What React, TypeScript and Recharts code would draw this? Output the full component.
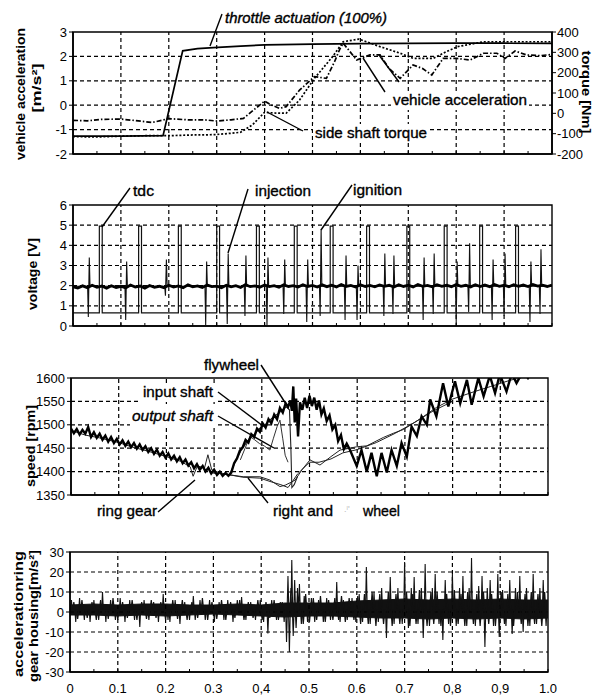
import React from 'react';
import { LineChart, ComposedChart, Line, Area, XAxis, YAxis, ReferenceLine, ReferenceArea } from 'recharts';

const TICK_FONT = "'Liberation Sans Narrow', 'Arial Narrow', 'Liberation Sans', Arial, sans-serif";
const LABEL_FONT = "'Liberation Sans', Arial, sans-serif";

// ---------- shared x axis (time, normalised) ----------
const xMinor = [0, 0.05, 0.1, 0.15, 0.2, 0.25, 0.3, 0.35, 0.4, 0.45, 0.5, 0.55, 0.6, 0.65, 0.7, 0.75, 0.8, 0.85, 0.9, 0.95, 1];
const xMajor = [0, 0.1, 0.2, 0.3, 0.4, 0.5, 0.6, 0.7, 0.8, 0.9, 1];
const xLabels = ['0', '0.1', '0.2', '0.3', '0,4', '0.5', '0.6', '0.7', '0,8', '0,9', '1.0'];
const gridX = [0.1, 0.2, 0.3, 0.4, 0.5, 0.6, 0.7, 0.8, 0.9];

// ---------- panel 1: vehicle acceleration / torque ----------
const accelTicks = [-2, -1, 0, 1, 2, 3];
const accelGrid = [-1, 0, 1, 2];
const torqueTicks = [-200, -100, 0, 100, 200, 300, 400];
const throttleX = [0, 0.1, 0.188, 0.229, 0.26, 0.293, 0.35, 0.4, 0.5, 0.6, 0.7, 0.8, 0.9, 1.0];
const throttleY = [-1.27, -1.27, -1.25, 2.23, 2.32, 2.36, 2.42, 2.47, 2.5, 2.52, 2.53, 2.54, 2.54, 2.53];
const vehAccX = [0, 0.03, 0.06, 0.1, 0.13, 0.165, 0.2, 0.24, 0.275, 0.3, 0.33, 0.356, 0.38, 0.4, 0.415, 0.431, 0.445, 0.473, 0.504, 0.529, 0.546, 0.557, 0.564, 0.578, 0.592, 0.62, 0.641, 0.66, 0.683, 0.71, 0.73, 0.749, 0.773, 0.801, 0.829, 0.857, 0.885, 0.902, 0.923, 0.947, 0.975, 1.0];
const vehAccY = [-0.62, -0.64, -0.58, -0.57, -0.63, -0.71, -0.55, -0.6, -0.6, -0.65, -0.6, -0.54, -0.15, 0.17, 0.0, -0.13, -0.06, 0.62, 1.17, 1.1, 1.78, 2.3, 2.54, 2.2, 1.85, 2.06, 2.06, 1.5, 1.1, 1.65, 1.5, 1.24, 1.92, 1.92, 1.85, 2.13, 2.13, 1.92, 2.22, 2.06, 2.03, 2.08];
const torqueX = [0, 0.05, 0.1, 0.15, 0.2, 0.25, 0.275, 0.3, 0.33, 0.35, 0.375, 0.4, 0.42, 0.445, 0.473, 0.504, 0.542, 0.564, 0.597, 0.641, 0.683, 0.71, 0.752, 0.78, 0.803, 0.857, 0.926, 1.0];
const torqueY = [-1.29, -1.3, -1.27, -1.25, -1.25, -1.22, -1.22, -1.2, -1.15, -1.11, -0.8, -0.29, -0.32, -0.33, 0.21, 1.1, 1.99, 2.6, 2.71, 2.4, 2.13, 1.92, 1.92, 2.2, 2.4, 2.6, 2.6, 2.6];

// ---------- panel 2: voltage ----------
const voltTicks = [0, 1, 2, 3, 4, 5, 6];
const voltGrid = [1, 2, 3, 4, 5];
const tdcCenters = [0.058, 0.14, 0.223, 0.303, 0.386, 0.465, 0.54, 0.616, 0.7, 0.778, 0.852, 0.927];
const tdcLow = 0.65;
const tdcHigh = 4.95;
const injX = [0, 0.01, 0.02, 0.03, 0.04, 0.05, 0.06, 0.07, 0.08, 0.09, 0.1, 0.11, 0.12, 0.13, 0.14, 0.15, 0.16, 0.17, 0.18, 0.19, 0.2, 0.21, 0.22, 0.23, 0.24, 0.25, 0.26, 0.27, 0.28, 0.29, 0.3, 0.31, 0.32, 0.33, 0.34, 0.35, 0.36, 0.37, 0.38, 0.39, 0.4, 0.41, 0.42, 0.43, 0.44, 0.45, 0.46, 0.47, 0.48, 0.49, 0.5, 0.51, 0.52, 0.53, 0.54, 0.55, 0.56, 0.57, 0.58, 0.59, 0.6, 0.61, 0.62, 0.63, 0.64, 0.65, 0.66, 0.67, 0.68, 0.69, 0.7, 0.71, 0.72, 0.73, 0.74, 0.75, 0.76, 0.77, 0.78, 0.79, 0.8, 0.81, 0.82, 0.83, 0.84, 0.85, 0.86, 0.87, 0.88, 0.89, 0.9, 0.91, 0.92, 0.93, 0.94, 0.95, 0.96, 0.97, 0.98, 0.99, 1.0];
const injY = [1.95, 1.88, 1.99, 1.9, 2.02, 1.92, 1.98, 1.87, 2.0, 1.91, 1.97, 1.89, 2.03, 1.93, 1.98, 1.88, 2.01, 1.92, 1.97, 1.9, 2.02, 1.93, 1.99, 1.9, 2.04, 1.94, 1.99, 1.91, 2.03, 1.95, 1.98, 1.9, 2.02, 1.94, 2.0, 1.91, 2.05, 1.95, 1.99, 1.92, 2.03, 1.95, 2.0, 1.92, 2.04, 1.96, 2.0, 1.93, 2.05, 1.96, 2.01, 1.93, 2.04, 1.95, 2.02, 1.94, 2.06, 1.96, 2.01, 1.93, 2.05, 1.96, 2.01, 1.94, 2.04, 1.97, 2.02, 1.93, 2.05, 1.96, 2.02, 1.94, 2.06, 1.97, 2.01, 1.94, 2.05, 1.97, 2.02, 1.95, 2.06, 1.97, 2.02, 1.94, 2.05, 1.96, 2.03, 1.95, 2.06, 1.97, 2.02, 1.95, 2.05, 1.97, 2.03, 1.96, 2.06, 1.98, 2.02, 1.96, 2.03];
const injBase = 1.97;
const spikeX = [0.032, 0.11, 0.193, 0.277, 0.322, 0.359, 0.405, 0.44, 0.488, 0.516, 0.568, 0.593, 0.649, 0.668, 0.731, 0.752, 0.8, 0.826, 0.875, 0.9, 0.954, 0.975];
const spikeLow = [0.45, 0.3, 1.5, 0.05, 0.1, 0.5, 0.05, 0.6, 0.2, 0.5, 0.3, 0.3, 0.5, 0.6, 0.3, 0.6, 0.2, 0.7, 0.3, 0.5, 0.2, 0.6];
const spikeHigh = [3.4, 3.2, 3.3, 3.2, 3.6, 3.5, 3.4, 3.3, 3.3, 4.8, 3.5, 3.0, 3.6, 3.5, 3.4, 3.6, 3.2, 4.1, 3.3, 3.6, 3.2, 3.8];

// ---------- panel 3: speed ----------
const speedTicks = [1350, 1400, 1450, 1500, 1550, 1600];
const speedGrid = [1400, 1450, 1500, 1550];
const flywheelPts: [number, number][] = [
  [0, 1492], [0.006, 1482], [0.012, 1491], [0.018, 1479], [0.024, 1489], [0.03, 1481], [0.036, 1495], [0.042, 1474], [0.048, 1484], [0.054, 1472],
  [0.06, 1481], [0.066, 1468], [0.072, 1477], [0.078, 1464], [0.084, 1474], [0.09, 1461], [0.096, 1470], [0.102, 1458], [0.108, 1467], [0.114, 1455],
  [0.12, 1464], [0.126, 1452], [0.132, 1461], [0.138, 1449], [0.144, 1458], [0.15, 1446], [0.156, 1454], [0.162, 1442], [0.168, 1450], [0.174, 1438],
  [0.18, 1447], [0.186, 1434], [0.192, 1442], [0.198, 1430], [0.204, 1439], [0.21, 1426], [0.216, 1434], [0.222, 1422], [0.228, 1431], [0.234, 1418],
  [0.24, 1426], [0.246, 1413], [0.252, 1420], [0.258, 1407], [0.264, 1416], [0.27, 1404], [0.276, 1412], [0.282, 1400], [0.288, 1408], [0.294, 1396],
  [0.3, 1404], [0.306, 1393], [0.312, 1400], [0.318, 1391], [0.324, 1397], [0.33, 1391],
  [0.336, 1398], [0.342, 1418], [0.348, 1428], [0.354, 1445], [0.36, 1452], [0.366, 1468], [0.372, 1462], [0.378, 1480], [0.384, 1474], [0.39, 1492],
  [0.396, 1485], [0.402, 1503], [0.408, 1494], [0.414, 1512], [0.42, 1503], [0.426, 1522], [0.432, 1512], [0.438, 1536], [0.444, 1526], [0.45, 1546],
  [0.455, 1538], [0.46, 1552], [0.463, 1530], [0.466, 1582], [0.469, 1505], [0.472, 1556], [0.476, 1475], [0.48, 1548], [0.485, 1532], [0.49, 1558],
  [0.495, 1536], [0.5, 1562], [0.505, 1540], [0.51, 1558], [0.515, 1532], [0.52, 1552], [0.525, 1522], [0.53, 1535], [0.536, 1508], [0.542, 1520],
  [0.548, 1490], [0.554, 1500], [0.56, 1465], [0.566, 1478], [0.572, 1448], [0.578, 1460], [0.585, 1446],
  [0.599, 1412], [0.609, 1446], [0.62, 1400], [0.63, 1440], [0.641, 1390], [0.651, 1440], [0.662, 1398], [0.672, 1446], [0.683, 1412], [0.693, 1461],
  [0.704, 1432], [0.714, 1496], [0.725, 1476], [0.735, 1518], [0.746, 1500], [0.753, 1554], [0.766, 1518], [0.78, 1589], [0.791, 1539], [0.805, 1593],
  [0.816, 1546], [0.83, 1596], [0.84, 1543], [0.854, 1600], [0.865, 1561], [0.878, 1605], [0.889, 1568], [0.899, 1608], [0.913, 1571], [0.924, 1610],
  [0.934, 1589], [0.948, 1615], [0.958, 1600], [0.97, 1620], [0.985, 1610], [1.0, 1625],
];
const ringGearPts: [number, number][] = [
  [0, 1488], [0.03, 1478], [0.06, 1472], [0.1, 1462], [0.13, 1452], [0.16, 1444], [0.2, 1432], [0.23, 1422], [0.25, 1410], [0.256, 1390],
  [0.265, 1412], [0.28, 1408], [0.287, 1436], [0.295, 1404], [0.31, 1398], [0.333, 1393], [0.361, 1389], [0.396, 1389], [0.417, 1382], [0.438, 1368],
  [0.449, 1371], [0.463, 1378], [0.47, 1382], [0.485, 1405], [0.501, 1425], [0.522, 1414], [0.545, 1432], [0.564, 1446], [0.599, 1453], [0.62, 1455],
  [0.655, 1473], [0.676, 1482], [0.697, 1490], [0.731, 1512], [0.766, 1537], [0.8, 1555], [0.843, 1570], [0.88, 1582], [0.92, 1595], [0.96, 1605], [1.0, 1612],
];
const wheelPts: [number, number][] = [
  [0.333, 1393], [0.36, 1388], [0.396, 1386], [0.42, 1378], [0.44, 1372], [0.455, 1366], [0.465, 1380], [0.475, 1395], [0.5, 1420], [0.52, 1420],
  [0.545, 1427], [0.57, 1440], [0.6, 1447], [0.64, 1462], [0.68, 1482], [0.72, 1505], [0.76, 1530], [0.8, 1550],
];
const inputShaftPts: [number, number][] = [
  [0.333, 1395], [0.345, 1422], [0.357, 1446], [0.37, 1465], [0.383, 1478], [0.395, 1492], [0.405, 1498], [0.415, 1508], [0.425, 1518], [0.435, 1524],
  [0.445, 1534], [0.452, 1538], [0.458, 1532], [0.461, 1450], [0.463, 1366], [0.468, 1372], [0.475, 1390],
];
const outputShaftPts: [number, number][] = [
  [0.355, 1425], [0.365, 1450], [0.375, 1475], [0.385, 1468], [0.395, 1460], [0.405, 1455], [0.417, 1446], [0.424, 1470], [0.432, 1496], [0.438, 1510],
  [0.444, 1470], [0.449, 1435], [0.455, 1420],
];

// ---------- panel 4: ring gear housing acceleration ----------
const vibTicks = [-30, -20, -10, 0, 10, 20, 30];
const vibGrid = [-20, -10, 0, 10, 20];
const bandX = [0, 0.05, 0.1, 0.15, 0.2, 0.25, 0.3, 0.35, 0.4, 0.45, 0.5, 0.55, 0.6, 0.65, 0.7, 0.75, 0.8, 0.85, 0.9, 0.95, 1.0];
const bandHi = [3.5, 4, 3.5, 4, 4, 3.5, 3.5, 4, 3.5, 4.5, 4.5, 4.5, 5.5, 6, 6.5, 6, 6.5, 6, 6.5, 6, 6];
const bandLo = [-1.5, -1.5, -2, -1.5, -2, -1.5, -1, -1.5, -2, -2.5, -2, -2, -2.5, -3, -3, -3.5, -3, -3.5, -3, -3.5, -3];
const vibBase = 1;
const vibSpikes: [number, number][] = [
  [0.003, 6], [0.012, -5], [0.02, 7], [0.03, -4], [0.042, -5], [0.05, 6], [0.06, -4], [0.068, 10], [0.075, -5], [0.085, 6],
  [0.095, -4], [0.105, 7], [0.115, -5], [0.125, 6], [0.135, -4], [0.146, -7.5], [0.155, 6], [0.165, -4], [0.175, 5], [0.185, -5],
  [0.195, 9], [0.205, -4], [0.209, -5], [0.22, 6], [0.23, -6], [0.24, 5], [0.25, -4], [0.258, 8], [0.262, -4], [0.272, 6],
  [0.283, -4], [0.292, 6], [0.302, -5], [0.312, 5], [0.322, -4], [0.33, 6], [0.341, -5], [0.35, 6], [0.359, 7.5], [0.368, -4],
  [0.378, 5], [0.388, -4], [0.398, 6], [0.405, -5], [0.414, -10.8], [0.422, 6], [0.432, -4], [0.44, 5], [0.448, -5], [0.453, -15],
  [0.456, 18], [0.459, -20], [0.462, 12], [0.464, 26], [0.467, -12], [0.47, 16], [0.473, -8], [0.476, 12], [0.48, 14], [0.484, -6],
  [0.49, 8], [0.497, -5], [0.505, 7], [0.512, -5], [0.52, 6], [0.53, -5], [0.537, 7], [0.545, -4], [0.558, 15], [0.565, -5],
  [0.572, 6], [0.58, -4], [0.59, 7], [0.598, -5], [0.605, 9], [0.612, -5], [0.62, 22.5], [0.628, -6], [0.636, 10], [0.645, -5],
  [0.652, 12], [0.662, -13], [0.67, 17.5], [0.678, -6], [0.686, 12], [0.695, -6], [0.7, 25], [0.708, -8], [0.714, 12], [0.72, 17.5],
  [0.728, -6], [0.735, 12], [0.739, -13], [0.743, 24], [0.752, -7], [0.758, 12], [0.764, 19], [0.772, -6], [0.78, -14], [0.785, 16],
  [0.792, -6], [0.8, 19], [0.808, -7], [0.815, 12], [0.822, 18], [0.83, -7], [0.835, 12], [0.84, 27], [0.848, -7], [0.855, 13],
  [0.862, 18], [0.868, -17.5], [0.873, 12], [0.879, 16], [0.886, -7], [0.895, 19], [0.898, -12.5], [0.905, 11], [0.912, -7], [0.92, 16],
  [0.925, -11], [0.932, 12], [0.941, 18], [0.948, -10], [0.955, 12], [0.962, -7], [0.969, 19], [0.976, -6], [0.983, 12], [0.99, 16], [0.996, -7],
];
const vibSmall: [number, number][] = [
  [0.008, 5], [0.016, -3.5], [0.025, 6], [0.036, -3], [0.046, 5], [0.055, -4], [0.064, 6], [0.08, -3.5], [0.09, 7], [0.1, -4],
  [0.11, 5], [0.12, -3], [0.13, 6], [0.14, -4], [0.15, 5], [0.16, -3.5], [0.17, 6], [0.18, -3], [0.19, 5], [0.2, -4],
  [0.215, 6], [0.225, -3.5], [0.235, 6], [0.245, -4], [0.255, 5], [0.267, -3], [0.277, 7], [0.288, -4], [0.297, 5], [0.307, -3.5],
  [0.317, 6], [0.326, -4], [0.336, 5], [0.345, -3], [0.355, 6], [0.364, -4], [0.373, 5], [0.383, -3], [0.393, 6], [0.402, -4],
  [0.41, 5], [0.418, -3], [0.427, 6], [0.436, -4], [0.444, 5], [0.488, -6], [0.493, 9], [0.501, -5], [0.509, 7], [0.516, -4],
  [0.524, 8], [0.534, -5], [0.541, 6], [0.55, -4], [0.554, 7], [0.562, -4], [0.568, 8], [0.576, -5], [0.584, 7], [0.594, -4],
  [0.602, 8], [0.608, -6], [0.616, 9], [0.624, -6], [0.632, 10], [0.64, -7], [0.648, 9], [0.656, -6], [0.666, 10], [0.674, -7],
  [0.682, 9], [0.69, -6], [0.704, 10], [0.711, -7], [0.717, 9], [0.724, -6], [0.731, 11], [0.747, -7], [0.755, 10], [0.761, -6],
  [0.768, 10], [0.776, -7], [0.788, 9], [0.796, -7], [0.804, 11], [0.812, -6], [0.818, 9], [0.826, -7], [0.832, 10], [0.844, -6],
  [0.851, 9], [0.858, -7], [0.865, 10], [0.876, -6], [0.882, 9], [0.89, -7], [0.902, 10], [0.909, -6], [0.916, 9], [0.928, -7],
  [0.936, 10], [0.944, -6], [0.952, 9], [0.958, -7], [0.965, 10], [0.972, -6], [0.979, 9], [0.987, -7], [0.993, 10],
];

// ---------- data builders ----------
const zip = (xs: number[], ys: number[]) => xs.map((x, i) => ({ x, y: ys[i] }));
const fromPairs = (p: [number, number][]) => p.map(([x, y]) => ({ x, y }));

const throttleData = zip(throttleX, throttleY);
const vehAccData = zip(vehAccX, vehAccY);
const torqueData = zip(torqueX, torqueY);

const tdcHalf = 0.003;
const tdcData = (() => {
  const pts: { x: number; y: number }[] = [{ x: 0, y: tdcLow }];
  tdcCenters.forEach((c) => {
    pts.push({ x: c - tdcHalf, y: tdcLow }, { x: c - tdcHalf, y: tdcHigh }, { x: c + tdcHalf, y: tdcHigh }, { x: c + tdcHalf, y: tdcLow });
  });
  pts.push({ x: 1, y: tdcLow });
  return pts;
})();
const injData = zip(injX, injY);
const spikeData = (() => {
  const pts: { x: number; y: number }[] = [{ x: 0, y: injBase }];
  spikeX.forEach((s, i) => {
    pts.push({ x: s - 0.0015, y: injBase }, { x: s, y: spikeLow[i] }, { x: s + 0.002, y: spikeHigh[i] }, { x: s + 0.0035, y: injBase });
  });
  pts.push({ x: 1, y: injBase });
  return pts;
})();

const flywheelData = fromPairs(flywheelPts);
const ringGearData = fromPairs(ringGearPts);
const wheelData = fromPairs(wheelPts);
const inputShaftData = fromPairs(inputShaftPts);
const outputShaftData = fromPairs(outputShaftPts);

const bandData = bandX.map((x, i) => ({ x, band: [bandLo[i], bandHi[i]] }));
const spikeSeries = (list: [number, number][], hw: number) => {
  const pts: { x: number; y: number }[] = [{ x: 0, y: vibBase }];
  list.forEach(([s, v]) => {
    pts.push({ x: s - hw, y: vibBase }, { x: s, y: v }, { x: s + hw, y: vibBase });
  });
  pts.push({ x: 1, y: vibBase });
  return pts;
};
const vibData = spikeSeries(vibSpikes, 0.0018);
const vibSmallData = spikeSeries(vibSmall, 0.0025);

// ---------- ticks ----------
const TS = 6;
const TM = 2;
const InnerTick = (props: any) => {
  const { x, y } = props;
  const ay = y - TS - TM;
  return <line x1={x} x2={x} y1={ay} y2={ay - 3} stroke="#000" strokeWidth={1} />;
};
const LabelTick = (props: any) => {
  const { x, y, payload } = props;
  const ay = y - TS - TM;
  const idx = xMajor.findIndex((v) => Math.abs(v - payload.value) < 1e-6);
  return (
    <g>
      <line x1={x} x2={x} y1={ay} y2={ay - 3} stroke="#000" strokeWidth={1} />
      {idx >= 0 && (
        <text x={x} y={ay + 21} textAnchor="middle" fontSize={13} fontFamily={TICK_FONT} fill="#000">
          {xLabels[idx]}
        </text>
      )}
    </g>
  );
};

const yTick = { fontSize: 13, fill: '#000', fontFamily: TICK_FONT };
const axisLine = { stroke: '#000', strokeWidth: 1.5 };
const gridStyle = { stroke: '#000', strokeDasharray: '4 3', strokeWidth: 1.2 };

const xAxisProps = (height: number, labels: boolean) => ({
  type: 'number' as const,
  dataKey: 'x',
  domain: [0, 1],
  ticks: xMinor,
  interval: 0 as const,
  tickLine: false,
  tickSize: TS,
  tickMargin: TM,
  tick: labels ? <LabelTick /> : <InnerTick />,
  axisLine,
  height,
  allowDataOverflow: true,
});

const gridLines = (ys: number[], yAxisId?: string) => [
  ...gridX.map((v) => <ReferenceLine key={'gx' + v} x={v} yAxisId={yAxisId as any} {...gridStyle} />),
  ...ys.map((v) => <ReferenceLine key={'gy' + v} y={v} yAxisId={yAxisId as any} {...gridStyle} />),
];

// ---------- overlay text helpers ----------
const Ann = ({ x, y, w, children, italic, size = 14, bg }: any) => (
  <g>
    {bg && <rect x={x - 2} y={y - size + 1} width={w + 4} height={size + 4} fill="#fff" />}
    <text x={x} y={y} fontSize={size} fontFamily={LABEL_FONT} fontStyle={italic ? 'italic' : 'normal'} textLength={w} lengthAdjust="spacingAndGlyphs" fill="#000" stroke="#000" strokeWidth={0.35}>
      {children}
    </text>
  </g>
);
const VLabel = ({ cx, cy, len, children, rot = -90 }: any) => (
  <text x={cx} y={cy} transform={`rotate(${rot} ${cx} ${cy})`} textAnchor="middle" dominantBaseline="central" fontSize={13} fontWeight="bold" fontFamily={LABEL_FONT} textLength={len} lengthAdjust="spacingAndGlyphs" fill="#000">
    {children}
  </text>
);
const L = ({ x1, y1, x2, y2 }: any) => <line x1={x1} y1={y1} x2={x2} y2={y2} stroke="#000" strokeWidth={1.4} />;

export default function App() {
  return (
    <div style={{ position: 'absolute', left: 0, top: 0, width: 594, height: 695, background: '#fff', overflow: 'hidden' }}>
      {/* Panel 1 */}
      <div style={{ position: 'absolute', left: 0, top: 0 }}>
        <LineChart width={594} height={172} margin={{ top: 32, right: 0, bottom: 0, left: 43 }}>
          <XAxis {...xAxisProps(18, false)} />
          <YAxis yAxisId="l" width={30} domain={[-2, 3]} ticks={accelTicks} interval={0} tick={yTick} tickSize={4} tickMargin={2} tickLine={{ stroke: '#000' }} axisLine={axisLine} allowDataOverflow />
          <YAxis yAxisId="r" orientation="right" width={42} domain={[-200, 400]} ticks={torqueTicks} interval={0} tick={yTick} tickSize={4} tickMargin={1} tickLine={{ stroke: '#000' }} axisLine={axisLine} allowDataOverflow />
          {gridLines(accelGrid, 'l')}
          <ReferenceArea yAxisId="l" x1={0} x2={1} y1={-2} y2={3} fill="none" stroke="#000" strokeWidth={1.6} />
          <Line yAxisId="l" data={throttleData} dataKey="y" type="linear" dot={false} stroke="#000" strokeWidth={1.7} isAnimationActive={false} />
          <Line yAxisId="l" data={vehAccData} dataKey="y" type="linear" dot={false} stroke="#000" strokeWidth={1.7} strokeDasharray="5 2 1.5 2" isAnimationActive={false} />
          <Line yAxisId="l" data={torqueData} dataKey="y" type="linear" dot={false} stroke="#000" strokeWidth={1.7} strokeDasharray="2 1.8" isAnimationActive={false} />
        </LineChart>
      </div>

      {/* Panel 2 */}
      <div style={{ position: 'absolute', left: 0, top: 172 }}>
        <LineChart width={594} height={169} margin={{ top: 33, right: 42, bottom: 0, left: 43 }}>
          <XAxis {...xAxisProps(15, false)} />
          <YAxis width={30} domain={[0, 6]} ticks={voltTicks} interval={0} tick={yTick} tickSize={4} tickMargin={2} tickLine={{ stroke: '#000' }} axisLine={axisLine} allowDataOverflow />
          {gridLines(voltGrid)}
          <ReferenceArea x1={0} x2={1} y1={0} y2={6} fill="none" stroke="#000" strokeWidth={1.4} />
          <Line data={tdcData} dataKey="y" type="linear" dot={false} stroke="#111" strokeWidth={1.2} isAnimationActive={false} />
          <Line data={spikeData} dataKey="y" type="linear" dot={false} stroke="#111" strokeWidth={1.1} isAnimationActive={false} />
          <Line data={injData} dataKey="y" type="linear" dot={false} stroke="#000" strokeWidth={2.8} isAnimationActive={false} />
        </LineChart>
      </div>

      {/* Panel 3 */}
      <div style={{ position: 'absolute', left: 0, top: 341 }}>
        <LineChart width={594} height={169} margin={{ top: 37, right: 46, bottom: 0, left: 35 }}>
          <XAxis {...xAxisProps(15, false)} />
          <YAxis width={36} domain={[1350, 1600]} ticks={speedTicks} interval={0} tick={yTick} tickSize={4} tickMargin={2} tickLine={{ stroke: '#000' }} axisLine={axisLine} allowDataOverflow />
          {gridLines(speedGrid)}
          <ReferenceArea x1={0} x2={1} y1={1350} y2={1600} fill="none" stroke="#000" strokeWidth={1.4} />
          <Line data={ringGearData} dataKey="y" type="linear" dot={false} stroke="#222" strokeWidth={1} isAnimationActive={false} />
          <Line data={wheelData} dataKey="y" type="linear" dot={false} stroke="#222" strokeWidth={1} isAnimationActive={false} />
          <Line data={outputShaftData} dataKey="y" type="linear" dot={false} stroke="#333" strokeWidth={1} isAnimationActive={false} />
          <Line data={inputShaftData} dataKey="y" type="linear" dot={false} stroke="#222" strokeWidth={1.1} isAnimationActive={false} />
          <Line data={flywheelData} dataKey="y" type="linear" dot={false} stroke="#000" strokeWidth={2.4} isAnimationActive={false} />
        </LineChart>
      </div>

      {/* Panel 4 */}
      <div style={{ position: 'absolute', left: 0, top: 510 }}>
        <ComposedChart width={594} height={185} data={bandData} margin={{ top: 42, right: 46, bottom: 0, left: 40 }}>
          <XAxis {...xAxisProps(23, true)} />
          <YAxis width={30} domain={[-30, 30]} ticks={vibTicks} interval={0} tick={yTick} tickSize={4} tickMargin={2} tickLine={{ stroke: '#000' }} axisLine={axisLine} allowDataOverflow />
          {gridLines(vibGrid)}
          <ReferenceArea x1={0} x2={1} y1={-30} y2={30} fill="none" stroke="#000" strokeWidth={1.4} />
          <Area dataKey="band" type="linear" fill="#111" fillOpacity={1} stroke="#111" strokeWidth={1} isAnimationActive={false} />
          <Line data={vibSmallData} dataKey="y" type="linear" dot={false} stroke="#111" strokeWidth={1.2} isAnimationActive={false} />
          <Line data={vibData} dataKey="y" type="linear" dot={false} stroke="#111" strokeWidth={1.1} isAnimationActive={false} />
        </ComposedChart>
      </div>

      {/* Annotations */}
      <svg width={594} height={695} style={{ position: 'absolute', left: 0, top: 0, pointerEvents: 'none' }}>
        {/* panel 1 */}
        <Ann x={225} y={23} w={162} italic>throttle actuation (100%)</Ann>
        <L x1={222} y1={14} x2={210} y2={46} />
        <Ann x={393} y={105} w={134} size={15} bg>vehicle acceleration</Ann>
        <L x1={363} y1={58} x2={385} y2={92} />
        <L x1={379} y1={55} x2={399} y2={82} />
        <Ann x={315} y={138} w={112} size={15} bg>side shaft torque</Ann>
        <L x1={267} y1={112} x2={303} y2={131} />
        <VLabel cx={20} cy={94} len={132}>vehicle acceleration</VLabel>
        <VLabel cx={36} cy={88} len={49}>[m/s²]</VLabel>
        <VLabel cx={586} cy={92} len={83} rot={90}>torque [Nm]</VLabel>

        {/* panel 2 */}
        <Ann x={133} y={196} w={21} size={15}>tdc</Ann>
        <L x1={130} y1={188} x2={102} y2={227} />
        <Ann x={255} y={196} w={56} size={15}>injection</Ann>
        <L x1={248} y1={189} x2={228} y2={253} />
        <Ann x={353} y={195} w={49} size={15}>ignition</Ann>
        <L x1={352} y1={185} x2={321} y2={230} />
        <VLabel cx={32} cy={274} len={72}>voltage [V]</VLabel>

        {/* panel 3 */}
        <Ann x={204} y={370} w={55} size={15}>flywheel</Ann>
        <L x1={261} y1={365} x2={286} y2={404} />
        <Ann x={143} y={397} w={70} size={15} bg>input shaft</Ann>
        <L x1={218} y1={392} x2={263} y2={426} />
        <Ann x={132} y={421} w={81} size={15} italic bg>output shaft</Ann>
        <L x1={218} y1={416} x2={274} y2={448} />
        <Ann x={97} y={516} w={60} size={15}>ring gear</Ann>
        <L x1={158} y1={512} x2={195} y2={480} />
        <Ann x={273} y={516} w={60} size={15}>right and</Ann>
        <text x={344} y={512} fontSize={9} fill="#bbb" fontFamily={LABEL_FONT}>.ᶦ'</text>
        <Ann x={363} y={516} w={37} size={15}>wheel</Ann>
        <L x1={268} y1={503} x2={248} y2={478} />
        <VLabel cx={30} cy={446} len={82}>speed [rpm]</VLabel>

        {/* panel 4 */}
        <VLabel cx={18} cy={614} len={126}>accelerationring</VLabel>
        <VLabel cx={33} cy={616} len={132}>gear housing[m/s²]</VLabel>
      </svg>
    </div>
  );
}
